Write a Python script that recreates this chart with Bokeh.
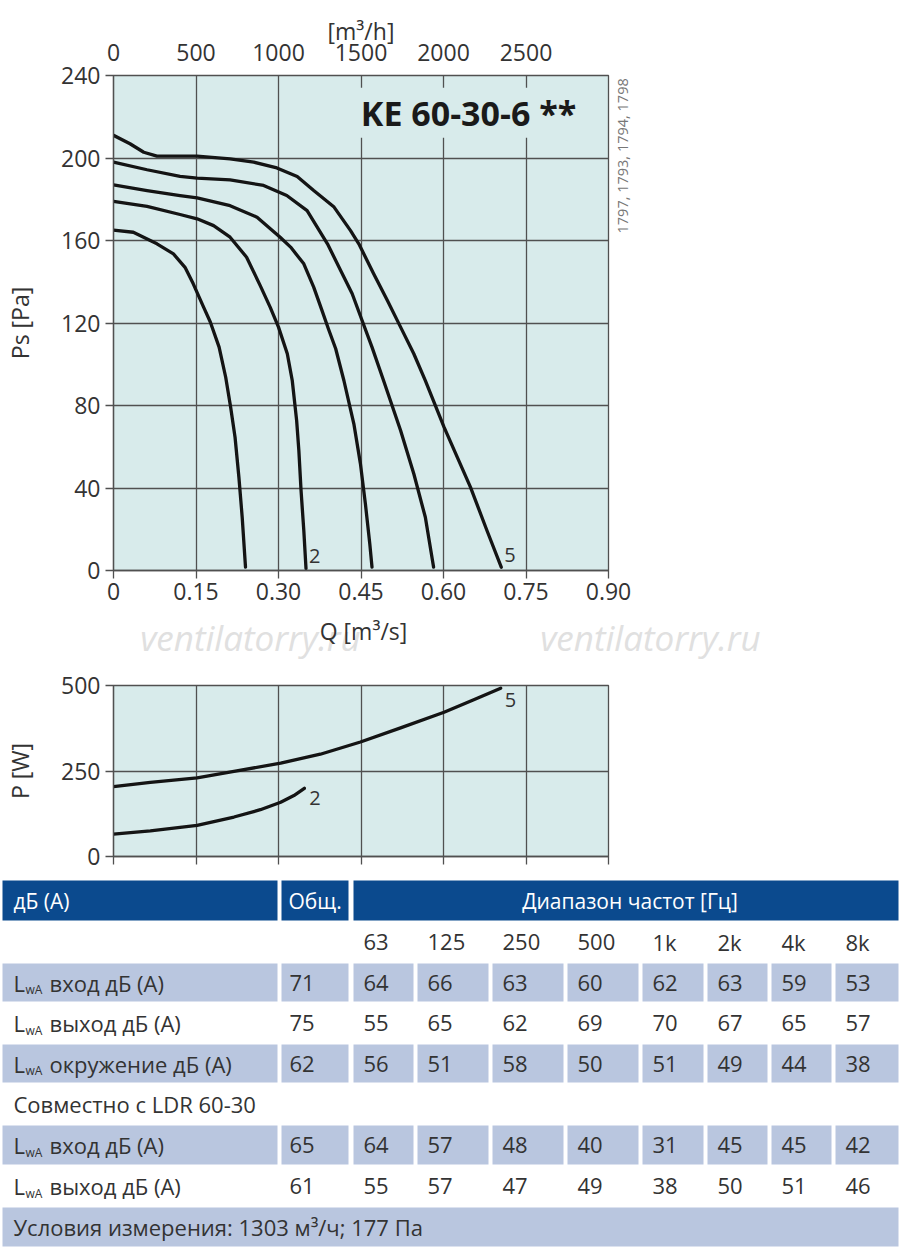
import math
from bokeh.plotting import figure
from bokeh.models import (Range1d, LinearAxis, FixedTicker, CustomJSTickFormatter,
                          Label, ColumnDataSource)
from bokeh.layouts import column
from bokeh.embed import file_html
from bokeh.resources import INLINE
from bokeh.core.properties import value

# ------------------------------------------------------------------ data
Q_TICKS = [0, 0.15, 0.30, 0.45, 0.60, 0.75, 0.90]
PS_TICKS = [0, 40, 80, 120, 160, 200, 240]
QH_TICKS = [0, 500, 1000, 1500, 2000, 2500]
P_TICKS = [0, 250, 500]

# static pressure curves (Q m3/s, Ps Pa)
q1 = [0, 0.036, 0.079, 0.109, 0.130, 0.145, 0.164, 0.176, 0.192, 0.204, 0.213, 0.221, 0.228, 0.234, 0.240]
ps1 = [165, 164, 158.4, 153.5, 147, 139, 127.6, 120.5, 108.3, 93.7, 79.2, 64.6, 45.2, 25.8, 1.6]
q2 = [0, 0.061, 0.121, 0.152, 0.182, 0.212, 0.242, 0.267, 0.285, 0.300, 0.316, 0.325, 0.333, 0.337, 0.341, 0.346, 0.350]
ps2 = [179, 176.5, 172.6, 170.5, 167.2, 161.6, 151.9, 138.0, 127.6, 118.0, 105.1, 92.1, 72.7, 58.2, 38.8, 19.4, 1.0]
q3 = [0, 0.061, 0.121, 0.152, 0.212, 0.261, 0.303, 0.322, 0.346, 0.364, 0.379, 0.391, 0.404, 0.419, 0.437, 0.449, 0.458, 0.466, 0.470]
ps3 = [187, 184.2, 181.8, 180.7, 176.9, 171.3, 161.6, 156.8, 148.7, 137.4, 126.1, 117.0, 107.5, 92.0, 71.1, 51.7, 32.3, 12.9, 1.6]
q4 = [0, 0.061, 0.121, 0.152, 0.212, 0.273, 0.315, 0.352, 0.389, 0.413, 0.434, 0.452, 0.470, 0.491, 0.522, 0.546, 0.567, 0.582]
ps4 = [198, 194.3, 191.1, 190.2, 189.4, 186.7, 181.8, 174.5, 158.4, 145.5, 134.2, 121.2, 108.3, 92.1, 67.9, 46.9, 25.8, 1.6]
q5 = [0, 0.030, 0.055, 0.079, 0.152, 0.212, 0.255, 0.297, 0.334, 0.364, 0.401, 0.431, 0.446, 0.473, 0.498, 0.522, 0.546, 0.567, 0.601, 0.649, 0.679, 0.705]
ps5 = [211, 206.9, 202.8, 200.9, 200.9, 199.6, 198.0, 195.2, 191.0, 184.2, 176.2, 164.8, 158.4, 143.9, 130.9, 118.0, 105.1, 92.1, 69.5, 40.4, 19.4, 1.6]
PS_CURVES = [(q1, ps1), (q2, ps2), (q3, ps3), (q4, ps4), (q5, ps5)]
CURVE_TAGS = ["2", "5"]

# power curves (Q m3/s, P W)
qp2 = [0, 0.067, 0.152, 0.219, 0.267, 0.304, 0.328, 0.347]
pw2 = [65.2, 74.8, 91.3, 115.4, 136.8, 158.8, 178.3, 199.4]
qp5 = [0, 0.067, 0.152, 0.219, 0.304, 0.376, 0.449, 0.522, 0.601, 0.655, 0.704]
pw5 = [204.3, 216.8, 229.6, 248.7, 273.0, 299.1, 334.8, 376.2, 421.7, 458.6, 492.2]

MODEL = "KE 60-30-6 **"
CODES = "1797, 1793, 1794, 1798"
WATERMARK = "ventilatorry.ru"
Q_LABEL = "Q [m³/s]"

# sound table
HDR = ["дБ (А)", "Общ.", "Диапазон частот [Гц]"]
FREQS = ["63", "125", "250", "500", "1k", "2k", "4k", "8k"]
ROW_NAMES = ["вход дБ (А)", "выход дБ (А)", "окружение дБ (А)", "вход дБ (А)", "выход дБ (А)"]
TOTALS = [71, 75, 62, 65, 61]
BANDS = [
    [64, 66, 63, 60, 62, 63, 59, 53],
    [55, 65, 62, 69, 70, 67, 65, 57],
    [56, 51, 58, 50, 51, 49, 44, 38],
    [64, 57, 48, 40, 31, 45, 45, 42],
    [55, 57, 47, 49, 38, 50, 51, 46],
]
SUBTITLE = "Совместно с LDR 60-30"
FOOTER = "Условия измерения: 1303 м³/ч; 177 Па"

# ------------------------------------------------------------------ style
FONT = "Open Sans"
BG = "#d8ebeb"
GRID = "#505050"
TXT = "#333333"
CURVE = "#141414"
DARK_BLUE = "#0b4a8e"
LIGHT_BLUE = "#b9c6df"
W = 900
FL, FW = 113, 495          # frame left / width of both charts
FS = "23px"


def style_axis(ax, size=FS):
    ax.major_label_text_font = FONT
    ax.major_label_text_font_size = size
    ax.major_label_text_color = TXT
    ax.axis_label_text_font = FONT
    ax.axis_label_text_font_size = size
    ax.axis_label_text_font_style = "normal"
    ax.axis_label_text_color = TXT
    ax.axis_line_color = GRID
    ax.axis_line_width = 1.3
    ax.major_tick_line_color = GRID
    ax.major_tick_line_width = 1.3
    ax.minor_tick_line_color = None
    ax.major_tick_in = 0
    ax.major_tick_out = 8


# ------------------------------------------------------------------ upper chart
p1 = figure(width=W, height=612, x_range=Range1d(0, 0.9), y_range=Range1d(0, 240),
            toolbar_location=None, output_backend="svg",
            min_border_left=FL, min_border_right=W - FL - FW,
            min_border_top=75, min_border_bottom=42)
p1.background_fill_color = BG
p1.outline_line_color = GRID
p1.outline_line_width = 1.3
p1.xaxis.ticker = FixedTicker(ticks=Q_TICKS)
p1.xaxis.formatter = CustomJSTickFormatter(code="return tick == 0 ? '0' : tick.toFixed(2);")
p1.yaxis.ticker = FixedTicker(ticks=PS_TICKS)
p1.yaxis.axis_label = "Ps [Pa]"
style_axis(p1.xaxis[0])
style_axis(p1.yaxis[0])
p1.xaxis.major_label_standoff = 4
p1.yaxis.major_label_standoff = 5
p1.yaxis.axis_label_standoff = 22
p1.grid.grid_line_color = GRID
p1.grid.grid_line_width = 1.3

p1.extra_x_ranges = {"mh": Range1d(0, 3000)}
top_ax = LinearAxis(x_range_name="mh", ticker=FixedTicker(ticks=QH_TICKS), axis_label="[m³/h]")
style_axis(top_ax)
top_ax.major_tick_out = 0
top_ax.major_label_standoff = 15
top_ax.axis_label_standoff = -6
top_ax.axis_line_color = None
p1.add_layout(top_ax, "above")

# right axis carrying the vertical code string (text starts at the tick)
p1.extra_y_ranges = {"codes": Range1d(0, 240)}
code_ax = LinearAxis(y_range_name="codes", ticker=FixedTicker(ticks=[163.4]),
                     formatter=CustomJSTickFormatter(args=dict(s=CODES), code="return s;"))
code_ax.major_label_text_font = FONT
code_ax.major_label_text_font_size = "14.5px"
code_ax.major_label_text_color = "#777777"
code_ax.major_label_orientation = math.pi / 2
code_ax.major_label_standoff = 14
code_ax.major_tick_out = 0
code_ax.major_tick_in = 0
code_ax.minor_tick_line_color = None
code_ax.axis_line_color = None
p1.add_layout(code_ax, "right")

for qq, pp in PS_CURVES:
    p1.line(qq, pp, line_color=CURVE, line_width=3.3, line_join="round", line_cap="round")

tag_src = ColumnDataSource(dict(x=[q2[-1], q5[-1]], y=[ps2[-1], ps5[-1]], t=CURVE_TAGS))
p1.text("x", "y", text="t", source=tag_src, x_offset=3, y_offset=-12,
        text_font=value(FONT), text_font_size="20px", text_color=TXT,
        text_baseline="middle", text_align="left")

p1.add_layout(Label(x=0.446, y=222, text=MODEL, text_font=FONT, text_font_size="34px",
                    text_font_style="bold", text_color="#1a1a1a",
                    text_baseline="middle", text_align="left",
                    background_fill_color=BG, padding=2))

# ------------------------------------------------------------------ strip with Q label + watermark
STRIP_TOP, STRIP_BOT = 612, 664
s = figure(width=W, height=STRIP_BOT - STRIP_TOP, x_range=Range1d(0, W),
           y_range=Range1d(STRIP_BOT, STRIP_TOP),
           toolbar_location=None, output_backend="svg", x_axis_location=None,
           y_axis_location=None, min_border=0, frame_align=False)
s.outline_line_color = None
s.grid.visible = False
s.text(x=[250, 650], y=[637, 637], text=[WATERMARK, WATERMARK], text_font=value(FONT),
       text_font_size="35px", text_font_style="italic", text_color="#e0e0e0",
       text_align="center", text_baseline="middle")
s.text(x=[363], y=[630], text=[Q_LABEL], text_font=value(FONT), text_font_size=FS,
       text_color=TXT, text_align="center", text_baseline="middle")

# ------------------------------------------------------------------ lower chart
P2_BOT = 878
p2 = figure(width=W, height=P2_BOT - STRIP_BOT, x_range=Range1d(0, 0.9), y_range=Range1d(0, 500),
            toolbar_location=None, output_backend="svg",
            min_border_left=FL, min_border_right=W - FL - FW,
            min_border_top=685 - STRIP_BOT, min_border_bottom=P2_BOT - 856)
p2.background_fill_color = BG
p2.outline_line_color = GRID
p2.outline_line_width = 1.3
p2.xaxis.ticker = FixedTicker(ticks=Q_TICKS)
p2.xaxis.formatter = CustomJSTickFormatter(code="return '';")
p2.yaxis.ticker = FixedTicker(ticks=P_TICKS)
p2.yaxis.axis_label = "P [W]"
style_axis(p2.xaxis[0])
style_axis(p2.yaxis[0])
p2.xaxis.major_label_text_font_size = "1px"
p2.xaxis.major_label_standoff = 0
p2.yaxis.major_label_standoff = 5
p2.yaxis.axis_label_standoff = 22
p2.grid.grid_line_color = GRID
p2.grid.grid_line_width = 1.3

p2.line(qp2, pw2, line_color=CURVE, line_width=3.3, line_join="round", line_cap="round")
p2.line(qp5, pw5, line_color=CURVE, line_width=3.3, line_join="round", line_cap="round")
p2.text(x=[qp2[-1]], y=[pw2[-1]], text=[CURVE_TAGS[0]], x_offset=5, y_offset=10,
        text_font=value(FONT), text_font_size="20px", text_color=TXT,
        text_baseline="middle", text_align="left")
p2.text(x=[qp5[-1]], y=[pw5[-1]], text=[CURVE_TAGS[1]], x_offset=4, y_offset=12,
        text_font=value(FONT), text_font_size="20px", text_color=TXT,
        text_baseline="middle", text_align="left")

# ------------------------------------------------------------------ table
t = figure(width=W, height=1247 - P2_BOT, x_range=Range1d(0, W), y_range=Range1d(1247, P2_BOT),
           toolbar_location=None, output_backend="svg", x_axis_location=None,
           y_axis_location=None, min_border=0, frame_align=False)
t.outline_line_color = None
t.grid.visible = False

ROW_Y = [880, 920, 962, 1002, 1043, 1083, 1124, 1165, 1206, 1246]
NAME_L, NAME_R = 2, 277
TOT_L, TOT_R = 281, 348
FREQ_L = [353, 417, 492, 567, 642, 707, 771, 835]
FREQ_R = [413, 488, 563, 638, 703, 767, 831, 898]
DATA_ROWS = [2, 3, 4, 6, 7]
SHADED = [True, False, True, True, False]
PAD = 10
TFS = "22px"

t.quad(left=[NAME_L, TOT_L, FREQ_L[0]], right=[NAME_R, TOT_R, FREQ_R[-1]],
       top=[ROW_Y[0]] * 3, bottom=[ROW_Y[1]] * 3, fill_color=DARK_BLUE, line_color=None)
ql, qr, qt, qb = [], [], [], []
for ri, sh in zip(DATA_ROWS, SHADED):
    if not sh:
        continue
    lefts = [NAME_L, TOT_L] + FREQ_L
    rights = [NAME_R, TOT_R] + FREQ_R
    ql += lefts
    qr += rights
    qt += [ROW_Y[ri] + 1] * len(lefts)
    qb += [ROW_Y[ri + 1] - 1] * len(lefts)
ql.append(NAME_L); qr.append(FREQ_R[-1]); qt.append(ROW_Y[8] + 1); qb.append(ROW_Y[9])
t.quad(left=ql, right=qr, top=qt, bottom=qb, fill_color=LIGHT_BLUE, line_color=None)


def mid(i):
    return (ROW_Y[i] + ROW_Y[i + 1]) / 2


t.text(x=[NAME_L + 11, TOT_L + 7], y=[mid(0)] * 2, text=HDR[:2], text_font=value(FONT),
       text_font_size="21px", text_color="white", text_baseline="middle", text_align="left")
t.text(x=[(FREQ_L[0] + FREQ_R[-1]) / 2 + 4], y=[mid(0)], text=[HDR[2]], text_font=value(FONT),
       text_font_size="21px", text_color="white", text_baseline="middle", text_align="center")

xs, ys, ts = [], [], []
for j, f in enumerate(FREQS):
    xs.append(FREQ_L[j] + PAD); ys.append(mid(1)); ts.append(f)
for k, ri in enumerate(DATA_ROWS):
    xs.append(TOT_L + 8); ys.append(mid(ri)); ts.append(str(TOTALS[k]))
    for j, v in enumerate(BANDS[k]):
        xs.append(FREQ_L[j] + PAD); ys.append(mid(ri)); ts.append(str(v))
    xs.append(NAME_L + 47); ys.append(mid(ri)); ts.append(ROW_NAMES[k])
xs.append(NAME_L + 11); ys.append(mid(5)); ts.append(SUBTITLE)
xs.append(NAME_L + 11); ys.append(mid(8)); ts.append(FOOTER)
t.text(x=xs, y=ys, text=ts, text_font=value(FONT), text_font_size=TFS,
       text_color=TXT, text_baseline="middle", text_align="left")

ly = [mid(ri) for ri in DATA_ROWS]
t.text(x=[NAME_L + 11] * len(ly), y=ly, text=["L"] * len(ly), text_font=value(FONT),
       text_font_size=TFS, text_color=TXT, text_baseline="middle", text_align="left")
t.text(x=[NAME_L + 23] * len(ly), y=ly, text=["wA"] * len(ly), text_font=value(FONT),
       text_font_size="12px", text_color=TXT, text_baseline="middle", text_align="left",
       y_offset=7)

layout = column(p1, s, p2, t, spacing=0)
open("out.html", "w").write(file_html(layout, INLINE))
